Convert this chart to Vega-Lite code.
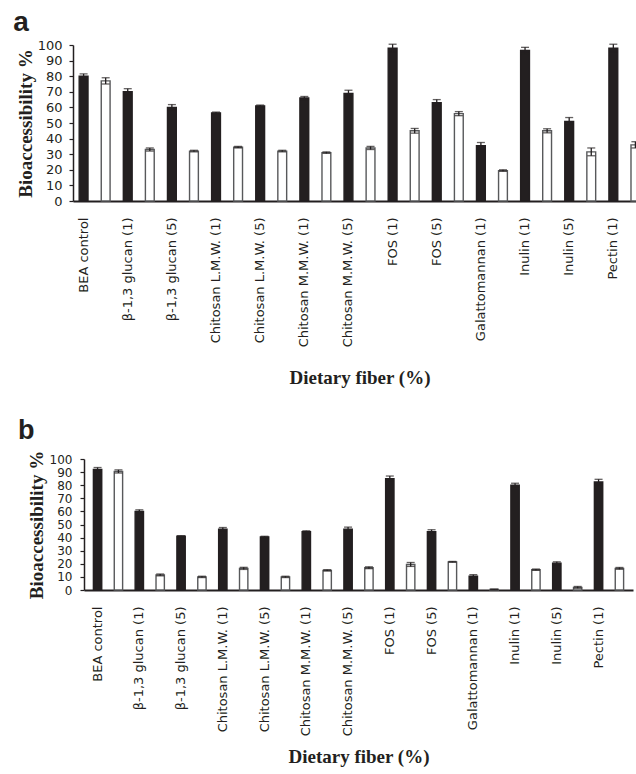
{
  "$schema": "https://vega.github.io/schema/vega-lite/v6.json",
  "padding": {"left": 13, "top": 9, "right": 0, "bottom": 4},
  "title": {"text": "a", "anchor": "start", "frame": "bounds", "font": "Liberation Sans", "fontSize": 28, "fontWeight": "bold", "color": "#231f20", "offset": 2, "dx": -3},
  "config": {
    "view": {"stroke": null},
    "axisX": {
      "labelAngle": -90, "labelAlign": "right", "labelBaseline": "middle",
      "labelFont": "DejaVu Sans", "labelFontSize": 13, "labelColor": "#231f20",
      "labelPadding": 16, "ticks": false, "domainColor": "#231f20", "domainWidth": 2,
      "titleFont": "Liberation Serif", "titleFontSize": 19, "titleFontWeight": "bold", "titleColor": "#231f20",
      "labelOverlap": false, "labelBound": false, "labelLimit": 0,
      "labelExpr": "slice(datum.label, -2) == ' B' ? '' : slice(datum.label, 0, -2)"
    },
    "axisY": {
      "labelOverlap": false,
      "labelFont": "DejaVu Sans", "labelFontSize": 13, "labelColor": "#231f20",
      "tickColor": "#231f20", "tickSize": 4, "tickWidth": 1.2, "labelPadding": 7,
      "domainColor": "#231f20", "domainWidth": 1.5, "grid": false,
      "titleFont": "Liberation Serif", "titleFontSize": 19, "titleFontWeight": "bold", "titleColor": "#231f20",
      "titlePadding": 2
    }
  },
  "datasets": {
    "a": [
      {"fiber": "BEA control", "series": "A", "bar": "BEA control A", "value": 80, "err": 1.5},
      {"fiber": "BEA control", "series": "B", "bar": "BEA control B", "value": 77, "err": 2},
      {"fiber": "β-1,3 glucan (1)", "series": "A", "bar": "β-1,3 glucan (1) A", "value": 70, "err": 2},
      {"fiber": "β-1,3 glucan (1)", "series": "B", "bar": "β-1,3 glucan (1) B", "value": 33, "err": 1},
      {"fiber": "β-1,3 glucan (5)", "series": "A", "bar": "β-1,3 glucan (5) A", "value": 60, "err": 1.8},
      {"fiber": "β-1,3 glucan (5)", "series": "B", "bar": "β-1,3 glucan (5) B", "value": 32, "err": 0.5},
      {"fiber": "Chitosan L.M.W. (1)", "series": "A", "bar": "Chitosan L.M.W. (1) A", "value": 56.5, "err": 0.5},
      {"fiber": "Chitosan L.M.W. (1)", "series": "B", "bar": "Chitosan L.M.W. (1) B", "value": 34.5, "err": 0.5},
      {"fiber": "Chitosan L.M.W. (5)", "series": "A", "bar": "Chitosan L.M.W. (5) A", "value": 61, "err": 0.5},
      {"fiber": "Chitosan L.M.W. (5)", "series": "B", "bar": "Chitosan L.M.W. (5) B", "value": 32, "err": 0.5},
      {"fiber": "Chitosan M.M.W. (1)", "series": "A", "bar": "Chitosan M.M.W. (1) A", "value": 66, "err": 1},
      {"fiber": "Chitosan M.M.W. (1)", "series": "B", "bar": "Chitosan M.M.W. (1) B", "value": 31, "err": 0.5},
      {"fiber": "Chitosan M.M.W. (5)", "series": "A", "bar": "Chitosan M.M.W. (5) A", "value": 69, "err": 2},
      {"fiber": "Chitosan M.M.W. (5)", "series": "B", "bar": "Chitosan M.M.W. (5) B", "value": 34, "err": 1},
      {"fiber": "FOS (1)", "series": "A", "bar": "FOS (1) A", "value": 98, "err": 2.5},
      {"fiber": "FOS (1)", "series": "B", "bar": "FOS (1) B", "value": 45, "err": 1.5},
      {"fiber": "FOS (5)", "series": "A", "bar": "FOS (5) A", "value": 63, "err": 2},
      {"fiber": "FOS (5)", "series": "B", "bar": "FOS (5) B", "value": 56, "err": 1.3},
      {"fiber": "Galattomannan (1)", "series": "A", "bar": "Galattomannan (1) A", "value": 35.5, "err": 2},
      {"fiber": "Galattomannan (1)", "series": "B", "bar": "Galattomannan (1) B", "value": 19.5, "err": 0.5},
      {"fiber": "Inulin (1)", "series": "A", "bar": "Inulin (1) A", "value": 96.5, "err": 2},
      {"fiber": "Inulin (1)", "series": "B", "bar": "Inulin (1) B", "value": 45, "err": 1.3},
      {"fiber": "Inulin (5)", "series": "A", "bar": "Inulin (5) A", "value": 51, "err": 2.5},
      {"fiber": "Inulin (5)", "series": "B", "bar": "Inulin (5) B", "value": 31.5, "err": 2.5},
      {"fiber": "Pectin (1)", "series": "A", "bar": "Pectin (1) A", "value": 98, "err": 2.5},
      {"fiber": "Pectin (1)", "series": "B", "bar": "Pectin (1) B", "value": 36, "err": 2}
    ],
    "b": [
      {"fiber": "BEA control", "series": "A", "bar": "BEA control A", "value": 92, "err": 1.5},
      {"fiber": "BEA control", "series": "B", "bar": "BEA control B", "value": 90.5, "err": 1.2},
      {"fiber": "β-1,3 glucan (1)", "series": "A", "bar": "β-1,3 glucan (1) A", "value": 60, "err": 1.2},
      {"fiber": "β-1,3 glucan (1)", "series": "B", "bar": "β-1,3 glucan (1) B", "value": 11.5, "err": 0.7},
      {"fiber": "β-1,3 glucan (5)", "series": "A", "bar": "β-1,3 glucan (5) A", "value": 41, "err": 0.5},
      {"fiber": "β-1,3 glucan (5)", "series": "B", "bar": "β-1,3 glucan (5) B", "value": 10, "err": 0.5},
      {"fiber": "Chitosan L.M.W. (1)", "series": "A", "bar": "Chitosan L.M.W. (1) A", "value": 46.5, "err": 1.2},
      {"fiber": "Chitosan L.M.W. (1)", "series": "B", "bar": "Chitosan L.M.W. (1) B", "value": 16.5, "err": 0.8},
      {"fiber": "Chitosan L.M.W. (5)", "series": "A", "bar": "Chitosan L.M.W. (5) A", "value": 40.5, "err": 0.5},
      {"fiber": "Chitosan L.M.W. (5)", "series": "B", "bar": "Chitosan L.M.W. (5) B", "value": 10, "err": 0.5},
      {"fiber": "Chitosan M.M.W. (1)", "series": "A", "bar": "Chitosan M.M.W. (1) A", "value": 44.5, "err": 0.7},
      {"fiber": "Chitosan M.M.W. (1)", "series": "B", "bar": "Chitosan M.M.W. (1) B", "value": 15, "err": 0.5},
      {"fiber": "Chitosan M.M.W. (5)", "series": "A", "bar": "Chitosan M.M.W. (5) A", "value": 46.5, "err": 1.5},
      {"fiber": "Chitosan M.M.W. (5)", "series": "B", "bar": "Chitosan M.M.W. (5) B", "value": 17, "err": 0.7},
      {"fiber": "FOS (1)", "series": "A", "bar": "FOS (1) A", "value": 85, "err": 2},
      {"fiber": "FOS (1)", "series": "B", "bar": "FOS (1) B", "value": 19.5, "err": 1.5},
      {"fiber": "FOS (5)", "series": "A", "bar": "FOS (5) A", "value": 44.5, "err": 1.5},
      {"fiber": "FOS (5)", "series": "B", "bar": "FOS (5) B", "value": 21.5, "err": 0.3},
      {"fiber": "Galattomannan (1)", "series": "A", "bar": "Galattomannan (1) A", "value": 10.5, "err": 1.2},
      {"fiber": "Galattomannan (1)", "series": "B", "bar": "Galattomannan (1) B", "value": 0.5, "err": 0.2},
      {"fiber": "Inulin (1)", "series": "A", "bar": "Inulin (1) A", "value": 80, "err": 1.5},
      {"fiber": "Inulin (1)", "series": "B", "bar": "Inulin (1) B", "value": 15.5, "err": 0.5},
      {"fiber": "Inulin (5)", "series": "A", "bar": "Inulin (5) A", "value": 20.5, "err": 1},
      {"fiber": "Inulin (5)", "series": "B", "bar": "Inulin (5) B", "value": 2, "err": 0.7},
      {"fiber": "Pectin (1)", "series": "A", "bar": "Pectin (1) A", "value": 82.5, "err": 2},
      {"fiber": "Pectin (1)", "series": "B", "bar": "Pectin (1) B", "value": 16.5, "err": 0.7}
    ]
  },
  "spacing": 29,
  "vconcat": [
    {
      "data": {"name": "a"},
      "width": 573,
      "height": 156,
      "encoding": {
        "x": {"field": "bar", "type": "nominal", "sort": null,
              "scale": {"paddingInner": 0.6, "paddingOuter": 0.28},
              "axis": {"title": "Dietary fiber (%)", "titlePadding": 22}},
        "y": {"field": "value", "type": "quantitative", "scale": {"domain": [0, 100]},
              "axis": {"title": "Bioaccessibility %", "values": [0, 10, 20, 30, 40, 50, 60, 70, 80, 90, 100]}}
      },
      "layer": [
        {
          "mark": {"type": "bar", "strokeWidth": 1.4},
          "encoding": {
            "fill": {"field": "series", "type": "nominal", "scale": {"domain": ["A", "B"], "range": ["#231f20", "#ffffff"]}, "legend": null},
            "stroke": {"field": "series", "type": "nominal", "scale": {"domain": ["A", "B"], "range": ["#231f20", "#58595b"]}, "legend": null}
          }
        },
        {
          "mark": {"type": "errorbar", "ticks": {"size": 8, "color": "#231f20", "thickness": 1.3}, "rule": {"color": "#231f20", "strokeWidth": 1.3}},
          "encoding": {"yError": {"field": "err"}}
        }
      ]
    },
    {
      "data": {"name": "b"},
      "title": {"text": "b", "anchor": "start", "frame": "bounds", "font": "Liberation Sans", "fontSize": 27, "fontWeight": "bold", "color": "#231f20", "offset": 5, "dx": -9},
      "width": 560,
      "height": 131,
      "encoding": {
        "x": {"field": "bar", "type": "nominal", "sort": null,
              "scale": {"paddingInner": 0.6, "paddingOuter": 0.45, "range": [11, 560]},
              "axis": {"title": "Dietary fiber (%)", "titlePadding": 12}},
        "y": {"field": "value", "type": "quantitative", "scale": {"domain": [0, 100]},
              "axis": {"title": "Bioaccessibility %", "offset": -11, "labelFontSize": 12, "labelPadding": 8, "titlePadding": 3,
                       "values": [0, 10, 20, 30, 40, 50, 60, 70, 80, 90, 100]}}
      },
      "layer": [
        {
          "mark": {"type": "bar", "strokeWidth": 1.4},
          "encoding": {
            "fill": {"field": "series", "type": "nominal", "scale": {"domain": ["A", "B"], "range": ["#231f20", "#ffffff"]}, "legend": null},
            "stroke": {"field": "series", "type": "nominal", "scale": {"domain": ["A", "B"], "range": ["#231f20", "#58595b"]}, "legend": null}
          }
        },
        {
          "mark": {"type": "errorbar", "ticks": {"size": 8, "color": "#231f20", "thickness": 1.3}, "rule": {"color": "#231f20", "strokeWidth": 1.3}},
          "encoding": {"yError": {"field": "err"}}
        }
      ]
    }
  ]
}
